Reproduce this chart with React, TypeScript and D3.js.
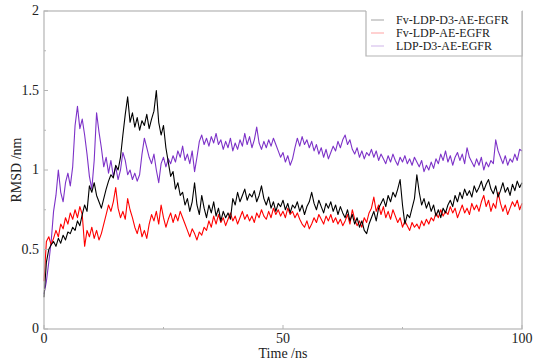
import React from "react";
import * as d3 from "d3";

const TIME_STEP = 0.5; // ns between samples

const fvLdpD3 = [
  0.20, 0.42, 0.50, 0.53, 0.55,
  0.52, 0.57, 0.54, 0.59, 0.56, 0.61, 0.60, 0.64, 0.62, 0.68, 0.65, 0.72,
  0.78, 0.74, 0.90, 0.86, 0.92, 0.84, 0.80, 0.76, 0.82, 0.88, 0.93, 0.97,
  0.95, 1.03, 1.00, 1.08, 1.22, 1.35, 1.46, 1.30, 1.36, 1.27, 1.33, 1.25,
  1.31, 1.28, 1.35, 1.26, 1.32, 1.37, 1.50, 1.30, 1.22, 1.28, 1.14, 1.05,
  0.96, 0.99, 0.88, 0.92, 0.84, 0.86, 0.78, 0.82, 0.74, 0.80, 0.92, 0.78,
  0.72, 0.84, 0.76, 0.70, 0.78, 0.73, 0.80, 0.71, 0.76, 0.68, 0.74, 0.70,
  0.73, 0.69, 0.82, 0.78, 0.86, 0.80, 0.84, 0.88, 0.81, 0.85, 0.83, 0.87,
  0.80, 0.84, 0.90, 0.82, 0.78, 0.83, 0.76, 0.80, 0.74, 0.79, 0.77, 0.81,
  0.75, 0.79, 0.73, 0.78, 0.76, 0.80, 0.74, 0.78, 0.72, 0.77, 0.80, 0.86,
  0.79, 0.75, 0.81, 0.77, 0.73, 0.79, 0.76, 0.80, 0.74, 0.78, 0.72, 0.77,
  0.73, 0.70, 0.75, 0.68, 0.72, 0.66, 0.70, 0.64, 0.68, 0.62, 0.60, 0.66,
  0.70, 0.74, 0.68, 0.76, 0.79, 0.82, 0.77, 0.84, 0.80, 0.86, 0.83, 0.88,
  0.94, 0.78, 0.66, 0.72, 0.70, 0.76, 0.82, 0.97, 0.86, 0.78, 0.82, 0.76,
  0.80, 0.74, 0.78, 0.71, 0.75, 0.70, 0.76, 0.73, 0.78, 0.81, 0.77, 0.84,
  0.80, 0.86, 0.82, 0.88, 0.84, 0.87, 0.83, 0.90, 0.86, 0.89, 0.93, 0.87,
  0.91, 0.94, 0.88, 0.85, 0.90, 0.83, 0.87, 0.92, 0.86, 0.89, 0.84, 0.91,
  0.87, 0.93, 0.89, 0.92,
];

const fvLdp = [
  0.30, 0.55, 0.58, 0.53, 0.57,
  0.62, 0.58, 0.66, 0.63, 0.70, 0.66, 0.73, 0.69, 0.75, 0.70, 0.77, 0.72,
  0.52, 0.62, 0.58, 0.64, 0.57, 0.62, 0.56, 0.60, 0.66, 0.72, 0.78, 0.74,
  0.80, 0.89, 0.76, 0.70, 0.74, 0.69, 0.82, 0.75, 0.70, 0.64, 0.60, 0.66,
  0.58, 0.62, 0.57, 0.66, 0.72, 0.68, 0.74, 0.66, 0.78, 0.70, 0.64, 0.69,
  0.73, 0.67, 0.72, 0.68, 0.74, 0.70, 0.66, 0.62, 0.58, 0.63, 0.60, 0.56,
  0.61, 0.59, 0.64, 0.62, 0.68, 0.64, 0.71, 0.66, 0.72, 0.67, 0.70, 0.65,
  0.69, 0.73, 0.68, 0.71, 0.66, 0.70, 0.74, 0.69, 0.72, 0.68, 0.71, 0.67,
  0.73, 0.70, 0.75, 0.71, 0.69, 0.74, 0.70, 0.76, 0.72, 0.75, 0.71, 0.74,
  0.70, 0.76, 0.72, 0.74, 0.70, 0.73, 0.69, 0.66, 0.64, 0.68, 0.63, 0.66,
  0.70, 0.67, 0.72, 0.69, 0.66, 0.71, 0.68, 0.72, 0.67, 0.70, 0.66, 0.69,
  0.65, 0.68, 0.72, 0.66, 0.75, 0.69, 0.65, 0.68, 0.64, 0.70, 0.67, 0.73,
  0.76, 0.83, 0.74, 0.78, 0.72, 0.77, 0.70, 0.74, 0.69, 0.75, 0.71, 0.67,
  0.70, 0.64, 0.68, 0.65, 0.62, 0.67, 0.64, 0.66, 0.63, 0.68, 0.65, 0.69,
  0.66, 0.70, 0.68, 0.73, 0.70, 0.75, 0.71, 0.74, 0.72, 0.77, 0.73, 0.76,
  0.70, 0.74, 0.78, 0.73, 0.76, 0.72, 0.79, 0.75, 0.78, 0.74, 0.80, 0.84,
  0.77, 0.81, 0.74, 0.79, 0.76, 0.86, 0.79, 0.74, 0.78, 0.72, 0.76, 0.80,
  0.77, 0.81, 0.75, 0.79,
];

const ldpD3 = [
  0.22, 0.30, 0.42, 0.55, 0.74,
  0.84, 1.00, 0.86, 0.80, 0.92, 0.98, 0.90, 1.02, 1.28, 1.40, 1.26, 1.32,
  1.22, 1.10, 0.96, 0.88, 1.06, 1.36, 1.24, 1.14, 1.02, 1.08, 0.98, 1.06,
  0.96, 1.02, 0.94, 1.00, 1.11, 1.06, 0.97, 1.00, 0.94, 0.98, 0.93, 0.97,
  1.10, 1.20, 1.14, 1.08, 1.04, 1.10, 1.00, 0.92, 1.04, 1.08, 1.02, 1.07,
  1.04, 1.09, 1.05, 1.12, 1.08, 1.15, 1.06, 1.10, 1.04, 1.12, 0.99, 1.08,
  1.18, 1.22, 1.16, 1.20, 1.15, 1.21, 1.17, 1.23, 1.16, 1.19, 1.13, 1.18,
  1.14, 1.20, 1.12, 1.17, 1.13, 1.19, 1.15, 1.23, 1.16, 1.21, 1.14, 1.19,
  1.27, 1.17, 1.13, 1.18, 1.14, 1.19, 1.15, 1.20, 1.16, 1.12, 1.08, 1.11,
  1.05, 1.09, 1.03, 1.07, 1.14, 1.20, 1.15, 1.21, 1.16, 1.19, 1.14, 1.18,
  1.12, 1.16, 1.10, 1.14, 1.08, 1.13, 1.07, 1.11, 1.15, 1.12, 1.18, 1.14,
  1.19, 1.22, 1.16, 1.19, 1.13, 1.10, 1.14, 1.08, 1.12, 1.07, 1.11, 1.09,
  1.13, 1.08, 1.12, 1.06, 1.10, 1.07, 1.04, 1.09, 1.05, 1.10, 1.06, 1.03,
  1.08, 1.05, 1.09, 1.04, 1.07, 1.03, 1.08, 1.05, 1.02, 1.06, 0.99, 1.03,
  1.00, 1.05, 1.01, 1.07, 1.04, 1.10, 1.06, 1.12, 1.05, 1.09, 1.03, 1.08,
  1.11, 1.06, 1.10, 1.04, 1.14, 1.08, 1.05, 1.02, 1.07, 1.03, 1.08, 1.00,
  1.05, 1.02, 1.06, 1.04, 1.19, 1.12, 1.08, 1.04, 1.09, 1.03, 1.07, 1.05,
  1.10, 1.06, 1.13, 1.12,
];

const seriesNames = ["Fv-LDP-D3-AE-EGFR", "Fv-LDP-AE-EGFR", "LDP-D3-AE-EGFR"];
const seriesColors = ["#000000", "#ff0000", "#7d32c8"];
const seriesData = [fvLdpD3, fvLdp, ldpD3];

const xTicks = [0, 50, 100];
const xMinorTicks = [25, 75];
const yTicks = [0, 0.5, 1, 1.5, 2];
const yMinorTicks = [0.25, 0.75, 1.25, 1.75];

const W = 533;
const H = 363;
const M = { left: 44, right: 11, top: 11, bottom: 34 };
const FONT = "'Times New Roman', 'Liberation Serif', Tinos, 'Nimbus Roman', FreeSerif, serif";
const AXIS = "#b4b4b4";

export default function App() {
  const x = d3.scaleLinear().domain([0, 100]).range([M.left, W - M.right]);
  const y = d3.scaleLinear().domain([0, 2]).range([H - M.bottom, M.top]);
  const line = d3
    .line<number>()
    .x((_, i) => x(i * TIME_STEP))
    .y((d) => y(d));

  const x0 = x(0), x1 = x(100), y0 = y(0), y1 = y(2);
  const legX = 366, legY = y1, legW = x1 - 366, legH = 45;
  const order = [2, 1, 0];
  const textStyle = { fontFamily: FONT };

  return (
    <svg
      width={W}
      height={H}
      style={{ position: "absolute", left: 0, top: 0, background: "#fff", fontFamily: FONT }}
    >
      <rect x={0} y={0} width={W} height={H} fill="#fff" />
      {order.map((k) => (
        <path
          key={k}
          d={line(seriesData[k]) || ""}
          fill="none"
          stroke={seriesColors[k]}
          strokeWidth={1.1}
          strokeLinejoin="round"
        />
      ))}
      <rect x={x0} y={y1} width={x1 - x0} height={y0 - y1} fill="none" stroke={AXIS} strokeWidth={1.2} />
      {xTicks.map((t) => (
        <line key={"xt" + t} x1={x(t)} x2={x(t)} y1={y0} y2={y0 - 4} stroke={AXIS} />
      ))}
      {xMinorTicks.map((t) => (
        <line key={"xm" + t} x1={x(t)} x2={x(t)} y1={y0} y2={y0 - 2} stroke={AXIS} />
      ))}
      {yTicks.map((t) => (
        <line key={"yt" + t} x1={x0} x2={x0 + 4} y1={y(t)} y2={y(t)} stroke={AXIS} />
      ))}
      {yMinorTicks.map((t) => (
        <line key={"ym" + t} x1={x0} x2={x0 + 2} y1={y(t)} y2={y(t)} stroke={AXIS} />
      ))}
      {xTicks.map((t) => (
        <text key={"xl" + t} x={x(t)} y={y0 + 14} textAnchor="middle" fontSize={14} fill="#222" style={textStyle}>
          {t}
        </text>
      ))}
      {yTicks.map((t) => (
        <text key={"yl" + t} x={x0 - 5} y={y(t) + 4} textAnchor="end" fontSize={14} fill="#222" style={textStyle}>
          {t}
        </text>
      ))}
      <text x={(x0 + x1) / 2} y={H - 5} textAnchor="middle" fontSize={14} fill="#222" style={textStyle}>
        Time /ns
      </text>
      <text
        transform={`translate(21,${(y0 + y1) / 2}) rotate(-90)`}
        textAnchor="middle"
        fontSize={14}
        fill="#222"
        style={textStyle}
      >
        RMSD /nm
      </text>
      <rect x={legX} y={legY - 10} width={legW} height={legH + 10} fill="#fff" />
      <path
        d={`M${legX},${legY} V${legY + legH} H${legX + legW} V${legY}`}
        fill="none"
        stroke={AXIS}
        strokeWidth={1.2}
      />
      {seriesNames.map((name, i) => (
        <g key={name}>
          <line
            x1={legX + 5}
            x2={legX + 18}
            y1={legY + 9 + i * 13}
            y2={legY + 9 + i * 13}
            stroke={seriesColors[i]}
            strokeWidth={0.6}
            opacity={0.6}
          />
          <text x={legX + 30} y={legY + 13 + i * 13} fontSize={12} fill="#222" style={textStyle}>
            {name}
          </text>
        </g>
      ))}
    </svg>
  );
}
